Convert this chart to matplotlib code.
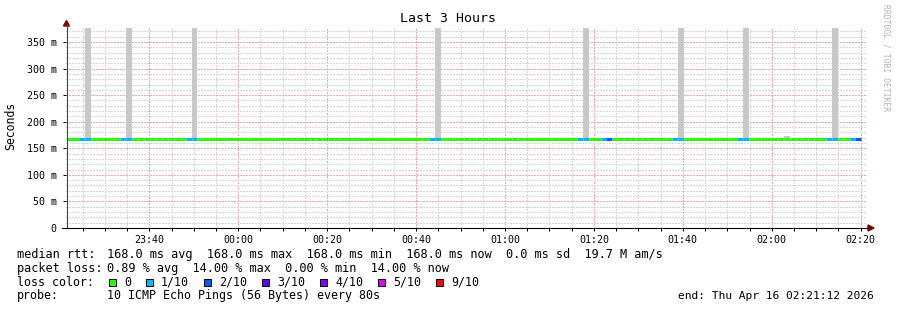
import datetime as dt
import matplotlib
matplotlib.use("Agg")
import matplotlib.pyplot as plt
import matplotlib.dates as mdates
from matplotlib.patches import Rectangle, Polygon
from matplotlib.lines import Line2D
import numpy as np

# data (one value per 80 s step)
first_step = dt.datetime(2026, 4, 15, 23, 21, 30)
step_seconds = 80
median_rtt_ms = [168.0] * 134
loss_1_steps = [2, 3, 9, 10, 20, 21, 61, 62, 86, 87, 90, 102, 103, 113, 114, 128, 129, 132]
loss_2_steps = [91, 133]
smoke_steps = [3, 10, 21, 62, 87, 103, 114, 121, 129]
smoke_top_ms = [380, 380, 380, 380, 380, 380, 380, 174, 380]

loss_labels = ['0', '1/10', '2/10', '3/10', '4/10', '5/10', '9/10']
loss_colors = ['#26ff00', '#00b8ff', '#0059ff', '#5e00ff', '#7e00ff', '#dd00ff', '#ff0000']

rtt_stats = "168.0 ms avg  168.0 ms max  168.0 ms min  168.0 ms now  0.0 ms sd  19.7 M am/s"
loss_stats = "0.89 % avg  14.00 % max  0.00 % min  14.00 % now"
probe_text = "10 ICMP Echo Pings (56 Bytes) every 80s"
end_text = "end: Thu Apr 16 02:21:12 2026"

W, H = 897, 310
MONO = 'DejaVu Sans Mono'


def fx(px):
    return px / W


def fy(py):
    return 1 - py / H


fig = plt.figure(figsize=(W / 100, H / 100), dpi=100, facecolor='white')
ax = fig.add_axes([fx(65.7), fy(228), (866 - 65.7) / W, 200 / H])

n = len(median_rtt_ms)
loss = np.zeros(n, dtype=int)
loss[loss_1_steps] = 1
loss[loss_2_steps] = 2

starts = np.array([mdates.date2num(first_step + dt.timedelta(seconds=step_seconds * i)) for i in range(n)])
step_w = step_seconds / 86400.0

# smoke
ax.bar(starts[smoke_steps], np.array(smoke_top_ms) - np.array(median_rtt_ms)[smoke_steps],
       bottom=np.array(median_rtt_ms)[smoke_steps], width=step_w, align='edge',
       color='#c8c8c8', linewidth=0, zorder=2)

# median line coloured by loss
ax.hlines(median_rtt_ms, starts, starts + step_w, colors=[loss_colors[l] for l in loss],
          linewidth=2.2, zorder=3, capstyle='butt')

t0 = dt.datetime(2026, 4, 15, 23, 21, 12)
ax.set_xlim(t0, t0 + dt.timedelta(hours=3))
ax.set_ylim(0, 376.4)

ax.xaxis.set_major_locator(mdates.MinuteLocator(byminute=[0, 20, 40]))
ax.xaxis.set_minor_locator(mdates.MinuteLocator(byminute=range(0, 60, 5)))
ax.xaxis.set_major_formatter(mdates.DateFormatter('%H:%M'))
ax.set_yticks(np.arange(0, 351, 50))
ax.set_yticks(np.arange(0, 371, 10), minor=True)
ax.set_yticklabels(['0'] + ['%d m' % v for v in range(50, 351, 50)])

ax.grid(which='minor', color='#d6d6d6', linestyle=(0, (1, 1)), linewidth=1.0,
        antialiased=False, zorder=1)
ax.grid(which='major', color='#f4a8a8', linestyle=(0, (1, 1)), linewidth=1.0,
        antialiased=False, zorder=1)
ax.set_axisbelow(True)

ax.tick_params(axis='both', which='both', labelsize=7.2, length=2, width=0.72, colors='black')
ax.tick_params(axis='y', which='minor', length=0)
ax.tick_params(axis='y', pad=4.5)
ax.tick_params(axis='x', pad=3)
for lab in ax.get_xticklabels() + ax.get_yticklabels():
    lab.set_family(MONO)

for s in ax.spines.values():
    s.set_visible(False)

# axis lines with arrows
fig.add_artist(Line2D([fx(66.5), fx(66.5)], [fy(228), fy(24)], color='#404040', lw=0.8))
fig.add_artist(Line2D([fx(62), fx(869)], [fy(228), fy(228)], color='black', lw=0.8))
fig.add_artist(Polygon([[fx(63.5), fy(26)], [fx(69.5), fy(26)], [fx(66.5), fy(20.5)]],
                       closed=True, color='#800000', transform=fig.transFigure))
fig.add_artist(Polygon([[fx(868), fy(225)], [fx(868), fy(231)], [fx(874), fy(228)]],
                       closed=True, color='#800000', transform=fig.transFigure))

fig.text(fx(448), fy(19), 'Last 3 Hours', ha='center', va='center', family=MONO, fontsize=9.5)
fig.text(fx(11), fy(126), 'Seconds', rotation=90, ha='center', va='center', family=MONO, fontsize=8.3)
fig.text(fx(886), fy(4), 'RRDTOOL / TOBI OETIKER', rotation=-90, ha='center', va='top',
         family=MONO, fontsize=5.8, color='#b4b4b4')

# legend
y1, y2, y3, y4 = 254.7, 268.3, 282.3, 296


def put(x, y, s, fs=8.55, **kw):
    fig.text(fx(x), fy(y), s, va='center', family=MONO, fontsize=fs, **kw)


put(16.7, y1, 'median rtt:')
put(107.3, y1, rtt_stats)
put(16.7, y2, 'packet loss:')
put(107.3, y2, loss_stats)
put(16.7, y3, 'loss color:', fs=8.4)
sw = 108.7
for lab, col in zip(loss_labels, loss_colors):
    fig.add_artist(Rectangle((fx(sw), fy(286)), 7 / W, 7 / H, facecolor=col, edgecolor='black',
                             linewidth=0.7, transform=fig.transFigure))
    tx = sw + 15.3
    put(tx, y3, lab, fs=8.4)
    sw = tx + len(lab) * 7.0 + 14.7
put(16.7, y4, 'probe:', fs=8.4)
put(107.3, y4, probe_text, fs=8.4)
put(873.5, y4, end_text, fs=8.1, ha='right')

fig.savefig('out.png', dpi=100, facecolor='white')
